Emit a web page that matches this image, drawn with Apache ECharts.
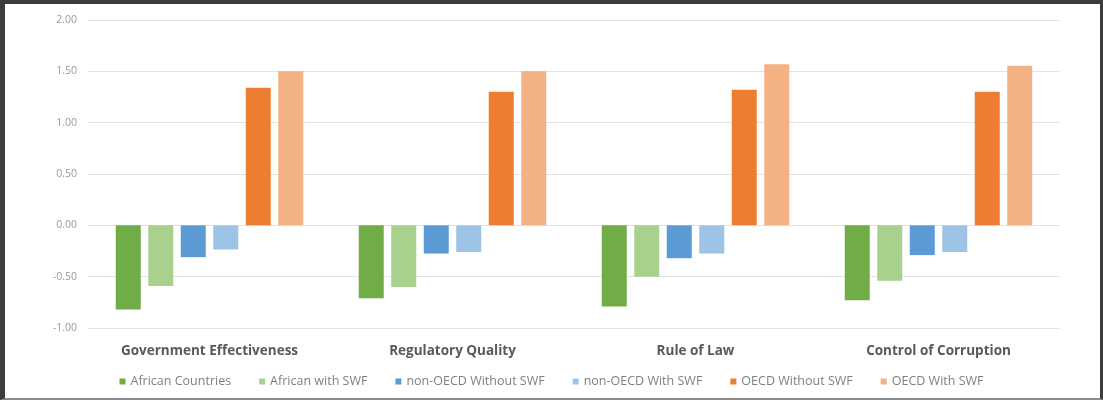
<!DOCTYPE html>
<html>
<head>
<meta charset="utf-8">
<script src="https://cdn.jsdelivr.net/npm/echarts@6/dist/echarts.min.js"></script>
<style>
  html, body { margin: 0; padding: 0; background: #fff; }
  #frame {
    position: absolute; left: 0; top: 0; width: 1103px; height: 400px;
    box-sizing: border-box;
    border-left: 5px solid #3c3c3c; border-top: 4px solid #3c3c3c;
    border-right: 3px solid #3c3c3c; border-bottom: 2px solid #8c8c8c;
  }
  #chart { position: absolute; left: 0; top: 0; width: 1103px; height: 400px; }
</style>
</head>
<body>
<div id="chart"></div>
<div id="frame"></div>
<script>
// Governance indicators by country group
const categories = ['Government Effectiveness', 'Regulatory Quality', 'Rule of Law', 'Control of Corruption'];
const seriesNames = ['African Countries', 'African with SWF', 'non-OECD Without SWF', 'non-OECD With SWF', 'OECD Without SWF', 'OECD With SWF'];
const africanCountries = [-0.82, -0.71, -0.79, -0.73];
const africanWithSWF   = [-0.59, -0.60, -0.50, -0.54];
const nonOecdWithout   = [-0.31, -0.275, -0.32, -0.29];
const nonOecdWith      = [-0.235, -0.26, -0.275, -0.26];
const oecdWithout      = [1.34, 1.30, 1.32, 1.30];
const oecdWith         = [1.50, 1.50, 1.57, 1.555];
const yTicks = [-1.00, -0.50, 0.00, 0.50, 1.00, 1.50, 2.00];

const values = [africanCountries, africanWithSWF, nonOecdWithout, nonOecdWith, oecdWithout, oecdWith];
const colors = ['#70AD47', '#A9D18E', '#5B9BD5', '#9DC3E6', '#ED7D31', '#F4B183'];

const chart = echarts.init(document.getElementById('chart'));
chart.setOption({
  animation: false,
  color: colors,
  grid: { left: 88, right: 43, top: 20, bottom: 72 },
  legend: {
    bottom: 7,
    left: 'center',
    itemWidth: 6, itemHeight: 6, itemGap: 28,
    icon: 'rect',
    textStyle: { color: '#7f7f7f', fontSize: 12.5, fontFamily: 'Open Sans' },
    data: seriesNames
  },
  xAxis: {
    type: 'category',
    data: categories,
    axisLine: { show: false, onZero: false },
    axisTick: { show: false },
    axisLabel: { color: '#595959', fontSize: 13.5, fontWeight: 'bold', fontFamily: 'Open Sans', margin: 16 }
  },
  yAxis: {
    type: 'value',
    min: yTicks[0], max: yTicks[yTicks.length - 1], interval: 0.5,
    axisLine: { show: false },
    axisTick: { show: false },
    splitLine: { lineStyle: { color: '#e3e3e3', width: 1 } },
    axisLabel: {
      color: '#9a9a9a', fontSize: 10.5, fontFamily: 'Open Sans', margin: 11,
      formatter: v => v.toFixed(2)
    }
  },
  series: seriesNames.map((name, i) => ({
    name, type: 'bar', data: values[i],
    barWidth: 25, barGap: '30%'
  }))
});
</script>
</body>
</html>
